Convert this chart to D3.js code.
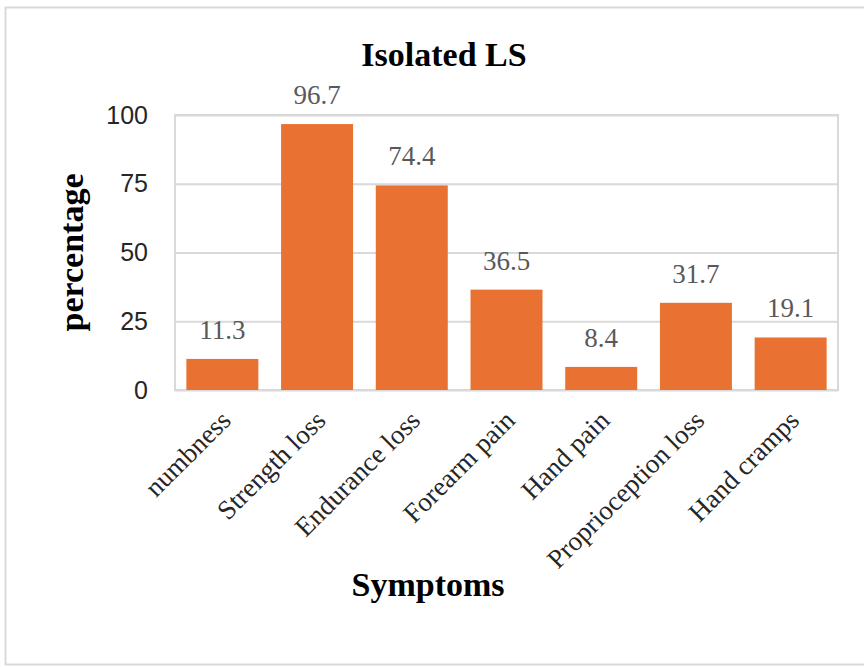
<!DOCTYPE html>
<html>
<head>
<meta charset="utf-8">
<script src="https://cdn.jsdelivr.net/npm/d3@7"></script>
<style>
  body { margin: 0; background: #fff; }
  svg { display: block; }
</style>
</head>
<body>
<svg id="chart"></svg>
<script>
// data
const categories = ['numbness', 'Strength loss', 'Endurance loss', 'Forearm pain',
                    'Hand pain', 'Proprioception loss', 'Hand cramps'];
const values = [11.3, 96.7, 74.4, 36.5, 8.4, 31.7, 19.1];
const yTicks = [0, 25, 50, 75, 100];

const width = 864, height = 667;
const margin = {top: 115, right: 26, bottom: 277, left: 175};
const innerW = width - margin.left - margin.right;
const innerH = height - margin.top - margin.bottom;

const serif = '"Liberation Serif", "Times New Roman", serif';
const sans = '"Liberation Sans", Arial, sans-serif';

const svg = d3.select('#chart').attr('width', width).attr('height', height);

// outer frame
svg.append('rect')
    .attr('x', 5.5).attr('y', 7.5)
    .attr('width', width + 10).attr('height', 657)
    .attr('fill', 'none')
    .attr('stroke', '#d9d9d9')
    .attr('stroke-width', 2);

const chart = svg.append('g')
    .attr('transform', `translate(${margin.left}, ${margin.top})`);

const x = d3.scaleBand()
    .domain(categories)
    .range([0, innerW])
    .paddingInner(0.24)
    .paddingOuter(0.12);

const y = d3.scaleLinear()
    .domain([0, 100])
    .range([innerH, 0]);

// plot area border
chart.append('rect')
    .attr('x', 0).attr('y', 0)
    .attr('width', innerW).attr('height', innerH)
    .attr('fill', 'none')
    .attr('stroke', '#d9d9d9')
    .attr('stroke-width', 2);

// gridlines
chart.append('g')
    .call(d3.axisLeft(y).tickValues(yTicks).tickSize(-innerW).tickFormat(''))
    .call(g => g.select('.domain').remove())
    .call(g => g.selectAll('line').attr('stroke', '#d9d9d9').attr('stroke-width', 2));

// y tick labels
chart.append('g')
    .call(d3.axisLeft(y).tickValues(yTicks).tickSize(0).tickPadding(27))
    .call(g => g.select('.domain').remove())
    .call(g => g.selectAll('text')
        .attr('font-family', sans)
        .attr('font-size', 25)
        .attr('fill', '#262626'));

// bars
chart.append('g')
    .selectAll('rect')
    .data(values)
    .join('rect')
    .attr('x', (d, i) => x(categories[i]))
    .attr('y', d => y(d))
    .attr('width', x.bandwidth())
    .attr('height', d => innerH - y(d))
    .attr('fill', '#e97132');

// value labels
chart.append('g')
    .selectAll('text')
    .data(values)
    .join('text')
    .attr('x', (d, i) => x(categories[i]) + x.bandwidth() / 2)
    .attr('y', d => y(d) - 20)
    .attr('text-anchor', 'middle')
    .attr('font-family', serif)
    .attr('font-size', 27)
    .attr('fill', '#595959')
    .text(d => d.toFixed(1));

// x axis labels, rotated
chart.append('g')
    .attr('transform', `translate(0, ${innerH})`)
    .call(d3.axisBottom(x).tickSize(0).tickPadding(0))
    .call(g => g.select('.domain').remove())
    .call(g => g.selectAll('text')
        .attr('font-family', serif)
        .attr('font-size', 27)
        .attr('fill', '#262626')
        .attr('text-anchor', 'end')
        .attr('dy', 0)
        .attr('transform', 'translate(10, 32) rotate(-45)'));

// titles
svg.append('text')
    .attr('x', 444).attr('y', 66)
    .attr('text-anchor', 'middle')
    .attr('font-family', serif)
    .attr('font-weight', 'bold')
    .attr('font-size', 34)
    .attr('fill', '#000')
    .text('Isolated LS');

svg.append('text')
    .attr('x', 428).attr('y', 596)
    .attr('text-anchor', 'middle')
    .attr('font-family', serif)
    .attr('font-weight', 'bold')
    .attr('font-size', 34)
    .attr('fill', '#000')
    .text('Symptoms');

svg.append('text')
    .attr('transform', `translate(83, ${margin.top + innerH / 2}) rotate(-90)`)
    .attr('text-anchor', 'middle')
    .attr('font-family', serif)
    .attr('font-weight', 'bold')
    .attr('font-size', 34)
    .attr('fill', '#000')
    .text('percentage');
</script>
</body>
</html>
